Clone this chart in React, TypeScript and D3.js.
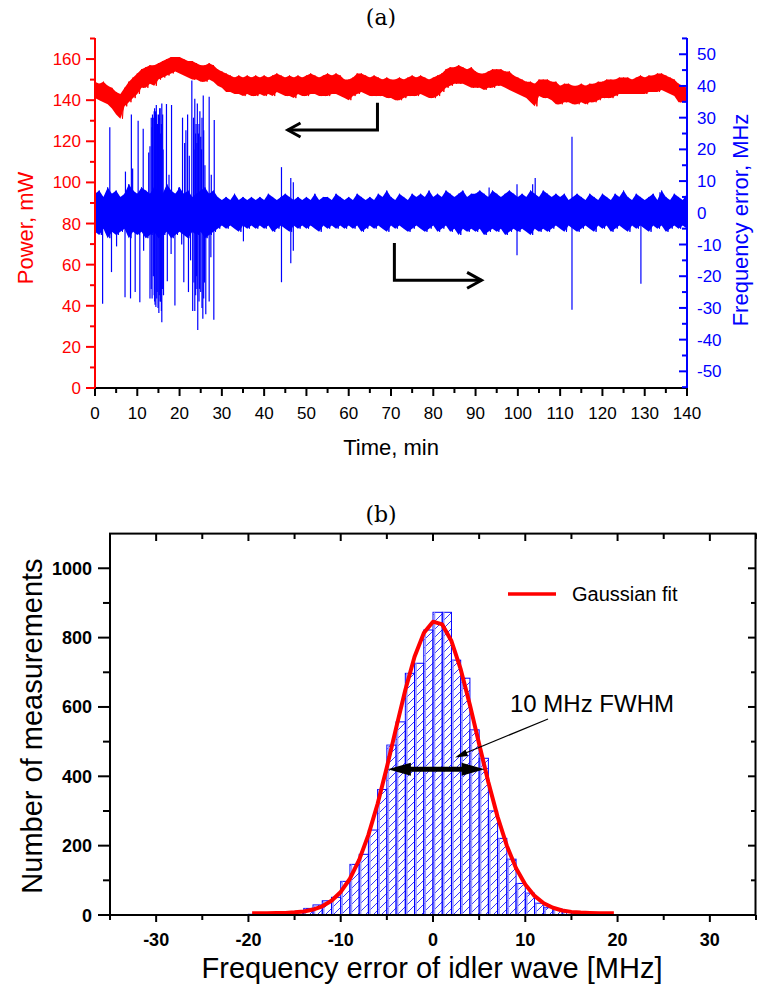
import React from 'react';
import * as d3 from 'd3';

// ---------- (a) time series, 1-minute envelopes ----------
const powerHi = [149,148,149,147,146,144,143,146,149,151,153,155,156,157,157,158,159,160,161,161,
  161,160,159,159,158,157,157,158,157,155,154,153,152,151,152,151,152,151,152,151,
  152,151,152,153,152,151,152,151,152,151,152,153,152,151,152,153,152,153,152,150,
  150,151,153,153,152,151,152,151,150,151,150,150,151,150,151,152,151,152,151,150,
  151,152,153,155,156,156,157,156,155,156,154,153,153,154,155,155,155,154,154,152,
  151,150,149,149,148,150,150,150,149,149,147,148,148,147,147,148,147,148,148,149,
  149,150,150,150,151,151,151,150,151,152,151,152,152,153,153,152,151,150,148,147,146];
const powerLo = [141,140,139,138,136,133,131,137,139,141,143,146,146,148,147,150,151,152,153,154,
  153,152,151,150,150,149,149,150,149,147,146,144,144,143,143,142,143,142,142,143,
  142,143,142,144,143,142,142,141,143,142,142,143,143,142,142,142,143,143,142,141,
  140,142,143,144,143,142,142,142,142,141,141,140,140,141,142,142,142,143,142,141,
  141,142,144,146,147,148,148,148,147,146,146,146,145,146,146,147,147,146,145,144,
  143,142,141,139,137,142,141,141,140,138,138,139,139,138,138,139,138,139,139,140,
  141,141,141,142,143,143,143,143,143,143,143,144,144,144,145,144,143,142,139,139,140];
const freqHi = [6,7,5,8,6,7,5,6,9,7,6,8,7,6,8,7,6,9,7,6,8,6,7,5,6,7,8,6,7,5,
  4,5,4,6,4,5,4,5,4,5,4,6,5,4,5,6,5,4,5,4,5,4,6,4,5,5,4,6,5,4,
  5,4,6,5,4,5,4,6,5,7,5,4,6,5,4,6,5,6,5,7,5,6,5,7,6,5,6,7,5,6,
  6,7,6,5,7,6,5,6,7,6,5,6,5,7,6,5,7,6,5,6,5,6,4,5,6,5,4,6,5,4,
  6,5,4,6,5,7,5,4,6,5,4,5,6,4,7,5,4,6,5,4,6];
const freqLo = [-6,-7,-5,-8,-6,-7,-6,-5,-8,-6,-7,-6,-8,-7,-6,-8,-7,-6,-8,-7,-6,-7,-8,-6,-7,-6,-8,-7,-6,-5,
  -4,-5,-4,-5,-6,-4,-5,-4,-5,-4,-5,-4,-6,-5,-4,-5,-6,-4,-5,-4,-5,-4,-5,-6,-4,-5,-4,-5,-4,-5,
  -4,-5,-4,-6,-5,-4,-5,-4,-5,-6,-4,-5,-4,-5,-6,-5,-4,-5,-6,-5,-4,-6,-5,-4,-6,-5,-7,-5,-6,-5,
  -6,-5,-7,-6,-5,-6,-5,-7,-6,-5,-6,-5,-6,-7,-5,-6,-5,-6,-5,-4,-5,-6,-4,-5,-6,-5,-4,-5,-6,-4,
  -5,-4,-6,-5,-4,-5,-6,-4,-5,-4,-5,-6,-4,-5,-4,-6,-5,-4,-5,-4,-5];
const spikeTime = [3.5,7.2,8.6,8.9,10.2,11.4,12.7,13.0,13.6,13.9,14.1,14.3,14.5,14.8,15.0,15.3,15.5,15.8,16.1,16.9,
  17.5,18.1,19.8,20.7,21.2,21.5,21.9,22.3,22.9,23.3,23.6,23.9,24.2,24.5,24.8,25.2,25.6,26.0,27.0,27.5,
  28.2,44.1,46.3,46.9,93.2,99.8,103.5,104.1,112.8,133.6,
  1.8,3.9,5.1,7.1,8.4,9.5,10.6,11.5,13.0,13.8,14.1,14.4,14.7,15.1,15.5,15.8,16.2,17.1,18.0,18.9,
  20.5,21.0,22.1,22.6,23.1,23.6,24.0,24.3,24.7,25.5,25.9,26.2,27.0,27.4,28.1,35.1,44.1,46.3,46.9,99.8,
  112.8,129.1,
  13.3,13.5,14.0,14.2,14.6,14.9,15.2,15.4,15.7,16.0,13.3,13.5,14.0,14.2,14.6,14.9,15.2,15.4,15.7,16.0,
  23.4,23.8,24.1,24.6,25.0,25.3,25.7,23.4,23.8,24.1,24.6,25.0,25.3,25.7];
const spikeValue = [27,13,31,14,29,26.5,19,21,31,30,33,32,34,28,31,33,25,34.5,20,34.3,
  12,34,8,30,22,26,31,18,41.7,30,36,28,34.5,25,32,20,37,15,36.6,12,
  29.3,14.4,11,9.6,8,9,9,11,24,6.5,
  -28.7,-18.7,-10.6,-26.6,-27,-25,-28.2,-12,-27,-20,-28,-29.7,-25,-31.6,-28,-34.5,-26,-21.6,-13,-29.2,
  -10,-21.9,-25,-15,-31,-31,-20,-37,-24,-33.4,-22,-32,-28,-14,-33.7,-9,-21.9,-15.9,-12,-13.4,
  -30.6,-22.4,
  30,27,32,29,31,26,30,33,28,31,-24,-27,-26,-29,-27,-30,-26,-28,-31,-24,
  20,25,22,28,24,30,26,-22,-26,-24,-28,-25,-30,-27];
const timeTicks = [0,10,20,30,40,50,60,70,80,90,100,110,120,130,140];
const powerTicks = [0,20,40,60,80,100,120,140,160];
const freqTicks = [-50,-40,-30,-20,-10,0,10,20,30,40,50];

// ---------- (b) histogram ----------
const binLeft = [-31,-22,-21,-20,-19,-18,-17,-16,-15,-14,-13,-12,-11,-10,-9,-8,-7,-6,-5,-4,-3,-2,-1,
  0,1,2,3,4,5,6,7,8,9,10,11,12,13,14,15,16,17];
const binCount = [1,1,1,2,2,1,3,4,10,19,29,41,51,97,146,175,245,362,490,557,697,726,822,
  873,873,735,683,534,452,300,221,161,91,63,34,21,17,8,5,3,2];
const fitX = [-19.6,-19,-18,-17,-16,-15,-14,-13,-12,-11,-10,-9,-8,-7,-6,-5,-4,-3,-2,-1,0,
  1,2,3,4,5,6,7,8,9,10,11,12,13,14,15,16,17,18,19,19.6];
const fitY = [5,5,5,5.5,6,7.6,10,15.7,25,41,66.5,104.6,159,231,321,426,539,649,745,813,846,
  838,790,709,606,493,383,283,200,135,88,55,34,21,13,9,7,6,5,5,5];
const histXTicks = [-30,-20,-10,0,10,20,30];
const histYTicks = [0,200,400,600,800,1000];

const SANS = 'Liberation Sans, Arial, Helvetica, sans-serif';
const SERIF = 'DejaVu Serif, Liberation Serif, serif';
const RED = '#ff0000';
const BLUE = '#0000ff';

export default function App() {
  // ----- (a) scales -----
  const xT = d3.scaleLinear().domain([0, 140]).range([95, 687]);
  const yP = d3.scaleLinear().domain([0, 170]).range([388, 38.5]);
  const yF = d3.scaleLinear().domain([-55, 55]).range([387.2, 38.4]);

  const band = (hi: number[], lo: number[], ys: d3.ScaleLinear<number, number>) =>
    d3.area<number>().x((_, i) => xT(i)).y0((_, i) => ys(lo[i])).y1((d) => ys(d))(hi) || '';
  const zig = (hi: number[], lo: number[], ys: d3.ScaleLinear<number, number>) => {
    const pts: [number, number][] = [];
    hi.forEach((h, i) => {
      pts.push([xT(i), ys(h)]);
      pts.push([xT(Math.min(i + 0.5, 140)), ys(lo[i])]);
    });
    return d3.line()(pts) || '';
  };

  const minorTime = d3.range(5, 140, 10);
  const minorPower = d3.range(10, 171, 20);
  const minorFreq = d3.range(-55, 56, 10);

  // ----- (b) scales -----
  const xH = d3.scaleLinear().domain([-35, 35]).range([110, 756]);
  const yH = d3.scaleLinear().domain([0, 1100]).range([915, 533.6]);
  const fitLine = d3.line<number>().x((_, i) => xH(fitX[i])).y((d) => yH(d));
  const histMinorX = d3.range(-35, 36, 5).filter((v) => v % 10 !== 0);
  const histMinorY = d3.range(100, 1100, 200);

  return (
    <svg width={757} height={992} viewBox="0 0 757 992"
      style={{ position: 'absolute', left: 0, top: 0, background: '#fff' }}>
      <defs>
        <pattern id="hatch" width="8" height="8" patternUnits="userSpaceOnUse">
          <path d="M0,8 L8,0 M-1,1 L1,-1 M7,9 L9,7" stroke={BLUE} strokeWidth={0.8} />
        </pattern>
      </defs>
      <rect x={0} y={0} width={757} height={992} fill="#fff" />

      {/* ================= (a) ================= */}
      <text x={381} y={25} textAnchor="middle" fontFamily={SERIF} fontSize={22}>(a)</text>

      <path d={band(powerHi, powerLo, yP)} fill={RED} />
      <path d={zig(powerHi, powerLo, yP)} fill="none" stroke={RED} strokeWidth={1} />
      <path d={band(freqHi, freqLo, yF)} fill={BLUE} />
      <path d={zig(freqHi, freqLo, yF)} fill="none" stroke={BLUE} strokeWidth={1} />
      {spikeTime.map((t, i) => (
        <line key={'sp' + i} x1={xT(t)} x2={xT(t)} y1={yF(0)} y2={yF(spikeValue[i])} stroke={BLUE} strokeWidth={1.2} />
      ))}

      {/* arrows */}
      <path d={`M${xT(66.8)},${yP(138.8)} V${yP(125.5)} H${xT(45.6)}`} fill="none" stroke="#000" strokeWidth={3} />
      <path d={`M${xT(48.6)},${yP(128.9)} L${xT(45.6)},${yP(125.5)} L${xT(48.6)},${yP(122.1)}`} fill="none" stroke="#000" strokeWidth={3} />
      <path d={`M${xT(70.8)},${yF(-9.5)} V${yF(-21.3)} H${xT(91.4)}`} fill="none" stroke="#000" strokeWidth={3} />
      <path d={`M${xT(88.0)},${yF(-18.8)} L${xT(91.4)},${yF(-21.3)} L${xT(88.0)},${yF(-23.8)}`} fill="none" stroke="#000" strokeWidth={3} />

      {/* bottom axis */}
      <line x1={95} x2={687} y1={388} y2={388} stroke="#000" strokeWidth={2} />
      {timeTicks.map((t) => (
        <g key={'tt' + t}>
          <line x1={xT(t)} x2={xT(t)} y1={388} y2={396} stroke="#000" strokeWidth={2} />
          <text x={xT(t)} y={419} textAnchor="middle" fontFamily={SANS} fontSize={17}>{t}</text>
        </g>
      ))}
      {minorTime.map((t) => (
        <line key={'mt' + t} x1={xT(t)} x2={xT(t)} y1={388} y2={393} stroke="#000" strokeWidth={2} />
      ))}
      <text x={391} y={455} textAnchor="middle" fontFamily={SANS} fontSize={22}>Time, min</text>

      {/* left axis */}
      <line x1={95} x2={95} y1={388} y2={38} stroke={RED} strokeWidth={2} />
      {powerTicks.map((p) => (
        <g key={'pt' + p}>
          <line x1={86} x2={95} y1={yP(p)} y2={yP(p)} stroke={RED} strokeWidth={2} />
          <text x={81} y={yP(p) + 6} textAnchor="end" fontFamily={SANS} fontSize={17} fill={RED}>{p}</text>
        </g>
      ))}
      {minorPower.map((p) => (
        <line key={'mp' + p} x1={90} x2={95} y1={yP(p)} y2={yP(p)} stroke={RED} strokeWidth={2} />
      ))}
      <text transform="translate(33,228) rotate(-90)" textAnchor="middle" fontFamily={SANS} fontSize={22} fill={RED}>Power, mW</text>

      {/* right axis */}
      <line x1={687} x2={687} y1={388} y2={38} stroke={BLUE} strokeWidth={2} />
      {freqTicks.map((f) => (
        <g key={'ft' + f}>
          <line x1={679} x2={687} y1={yF(f)} y2={yF(f)} stroke={BLUE} strokeWidth={2} />
          <text x={697} y={yF(f) + 6} textAnchor="start" fontFamily={SANS} fontSize={17} fill={BLUE}>{f}</text>
        </g>
      ))}
      {minorFreq.map((f) => (
        <line key={'mf' + f} x1={682} x2={687} y1={yF(f)} y2={yF(f)} stroke={BLUE} strokeWidth={2} />
      ))}
      <text transform="translate(748,220) rotate(-90)" textAnchor="middle" fontFamily={SANS} fontSize={22} fill={BLUE}>Frequency error, MHz</text>

      {/* ================= (b) ================= */}
      <text x={381} y={522} textAnchor="middle" fontFamily={SERIF} fontSize={22}>(b)</text>

      {binLeft.map((b, i) => (
        <g key={'bar' + i}>
          <rect x={xH(b)} y={yH(binCount[i])} width={xH(b + 1) - xH(b)}
            height={yH(0) - yH(binCount[i])} fill="url(#hatch)" stroke={BLUE} strokeWidth={1} />
          <line x1={xH(b) + 1.5} x2={xH(b) + 1.5} y1={yH(binCount[i])} y2={yH(0)} stroke="#9999ff" strokeWidth={1.6} />
        </g>
      ))}
      <path d={fitLine(fitY) || ''} fill="none" stroke={RED} strokeWidth={4} strokeLinejoin="round" />

      {/* legend */}
      <line x1={508} x2={556} y1={594} y2={594} stroke={RED} strokeWidth={3.5} />
      <text x={572} y={601} fontFamily={SANS} fontSize={20}>Gaussian fit</text>

      {/* FWHM annotation */}
      <text x={510} y={712} fontFamily={SANS} fontSize={24}>10 MHz FWHM</text>
      <line x1={548} y1={719} x2={462} y2={754.5} stroke="#000" strokeWidth={1.2} />
      <path d="M455,757.5 L465.5,749.5 L468,756 Z" fill="#000" />
      <line x1={xH(-3.1)} x2={xH(3.6)} y1={yH(420)} y2={yH(420)} stroke="#000" strokeWidth={5} />
      <path d={`M${xH(-4.9)},${yH(420)} L${xH(-2.4)},${yH(420) - 6.5} L${xH(-2.4)},${yH(420) + 6.5} Z`} fill="#000" />
      <path d={`M${xH(5.6)},${yH(420)} L${xH(3.1)},${yH(420) - 6.5} L${xH(3.1)},${yH(420) + 6.5} Z`} fill="#000" />

      {/* frame */}
      <rect x={110} y={533.6} width={645.5} height={381.4} fill="none" stroke="#000" strokeWidth={2} />
      {histXTicks.map((v) => (
        <g key={'hx' + v}>
          <line x1={xH(v)} x2={xH(v)} y1={915} y2={922} stroke="#000" strokeWidth={2} />
          <line x1={xH(v)} x2={xH(v)} y1={533.6} y2={541} stroke="#000" strokeWidth={2} />
          <text x={xH(v)} y={946} textAnchor="middle" fontFamily={SANS} fontWeight="bold" fontSize={18}>{v}</text>
        </g>
      ))}
      {histMinorX.map((v) => (
        <g key={'hmx' + v}>
          <line x1={xH(v)} x2={xH(v)} y1={915} y2={920} stroke="#000" strokeWidth={2} />
          <line x1={xH(v)} x2={xH(v)} y1={533.6} y2={539} stroke="#000" strokeWidth={2} />
        </g>
      ))}
      {histYTicks.map((v) => (
        <g key={'hy' + v}>
          <line x1={98} x2={110} y1={yH(v)} y2={yH(v)} stroke="#000" strokeWidth={2} />
          <line x1={748} x2={756} y1={yH(v)} y2={yH(v)} stroke="#000" strokeWidth={2} />
          <text x={92} y={yH(v) + 6.5} textAnchor="end" fontFamily={SANS} fontWeight="bold" fontSize={18}>{v}</text>
        </g>
      ))}
      {histMinorY.map((v) => (
        <g key={'hmy' + v}>
          <line x1={103} x2={110} y1={yH(v)} y2={yH(v)} stroke="#000" strokeWidth={2} />
          <line x1={751} x2={756} y1={yH(v)} y2={yH(v)} stroke="#000" strokeWidth={2} />
        </g>
      ))}
      <text x={432} y={978} textAnchor="middle" fontFamily={SANS} fontSize={29}>Frequency error of idler wave [MHz]</text>
      <text transform="translate(42,726) rotate(-90)" textAnchor="middle" fontFamily={SANS} fontSize={29}>Number of measurements</text>
    </svg>
  );
}
